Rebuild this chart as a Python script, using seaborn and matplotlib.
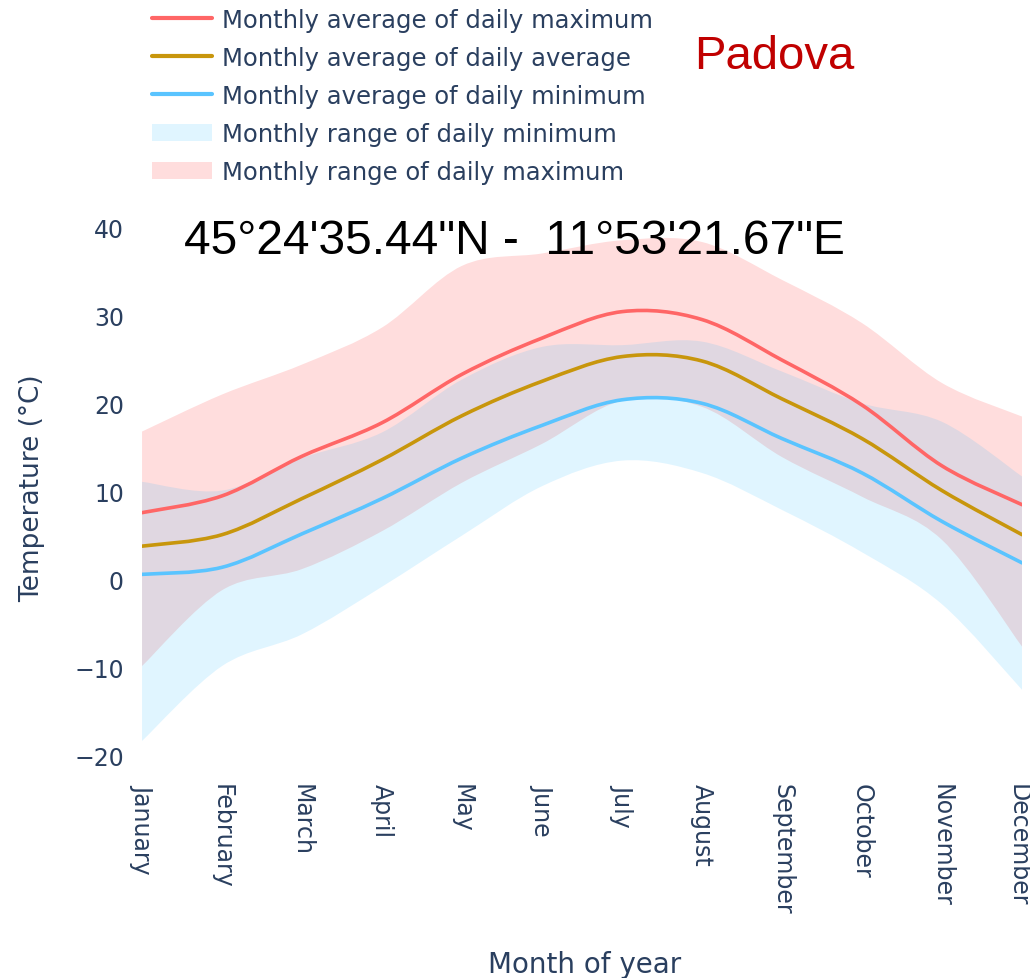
import numpy as np
import matplotlib
matplotlib.use("Agg")
import matplotlib.pyplot as plt
import matplotlib.transforms as mtransforms
from matplotlib.path import Path
from matplotlib.patches import PathPatch, Patch
from matplotlib.lines import Line2D
import seaborn as sns

months = ["January", "February", "March", "April", "May", "June", "July",
          "August", "September", "October", "November", "December"]

avg_max = [7.6, 9.5, 14.0, 17.8, 23.3, 27.4, 30.4, 29.5, 24.9, 19.8, 12.9, 8.5]
avg_avg = [3.8, 5.1, 9.2, 13.6, 18.6, 22.5, 25.3, 24.8, 20.5, 16.0, 10.1, 5.1]
avg_min = [0.6, 1.4, 5.2, 9.2, 13.8, 17.5, 20.4, 20.0, 16.0, 12.1, 6.6, 1.9]

max_range_hi = [16.8, 21.0, 24.4, 28.6, 35.6, 37.0, 38.5, 38.3, 34.0, 29.1, 22.3, 18.5]
max_range_lo = [-9.8, -1.2, 1.2, 5.5, 11.0, 15.4, 20.3, 19.6, 13.9, 9.4, 4.5, -7.6]
min_range_hi = [11.1, 10.1, 13.8, 16.7, 22.7, 26.4, 26.6, 27.0, 23.6, 20.0, 17.9, 11.7]
min_range_lo = [-18.3, -9.8, -6.2, -0.8, 5.0, 10.6, 13.5, 12.1, 7.9, 3.1, -2.8, -12.5]

title_coords = "45°24'35.44\"N -  11°53'21.67\"E"
city = "Padova"

sns.set_theme(style="white")
plt.rcParams["font.family"] = ["DejaVu Sans"]

TXT = "#2a3f5f"
C_MAX = "#ff6666"
C_AVG = "#c8960c"
C_MIN = "#5ac4ff"


def spline_verts(xs, ys):
    """Catmull-Rom spline expressed as cubic Bezier segments (drawn by matplotlib Path)."""
    p = np.column_stack([xs, ys]).astype(float)
    n = len(p)
    verts = [tuple(p[0])]
    codes = [Path.MOVETO]
    for i in range(n - 1):
        p0 = p[i - 1] if i > 0 else p[i]
        p1 = p[i]
        p2 = p[i + 1]
        p3 = p[i + 2] if i + 2 < n else p[i + 1]
        c1 = p1 + (p2 - p0) / 6.0
        c2 = p2 - (p3 - p1) / 6.0
        verts += [tuple(c1), tuple(c2), tuple(p2)]
        codes += [Path.CURVE4] * 3
    return verts, codes


def band(ax, xs, lo, hi, color, alpha, z):
    v1, c1 = spline_verts(xs, hi)
    v2, c2 = spline_verts(xs[::-1], lo[::-1])
    verts = v1 + [v2[0]] + v2[1:] + [v1[0]]
    codes = c1 + [Path.LINETO] + c2[1:] + [Path.CLOSEPOLY]
    ax.add_patch(PathPatch(Path(verts, codes), facecolor=color, alpha=alpha,
                           edgecolor="none", zorder=z))


def curve(ax, xs, ys, color, z):
    v, c = spline_verts(xs, ys)
    ax.add_patch(PathPatch(Path(v, c), facecolor="none", edgecolor=color,
                           linewidth=2.6, zorder=z, capstyle="round"))


fig = plt.figure(figsize=(10.3, 9.79), dpi=100)
ax = fig.add_axes([0.1379, 0.2178, 0.8544, 0.5673])

x = np.arange(len(months))
band(ax, x, np.array(max_range_lo), np.array(max_range_hi), (1.0, 0.0, 0.0), 0.133, 1)
band(ax, x, np.array(min_range_lo), np.array(min_range_hi), (0.0, 0.69, 1.0), 0.12, 2)
curve(ax, x, np.array(avg_max), C_MAX, 3)
curve(ax, x, np.array(avg_avg), C_AVG, 3)
curve(ax, x, np.array(avg_min), C_MIN, 3)

ax.set_xlim(0, len(months) - 1)
ax.set_ylim(-21, 42)
ax.set_yticks([-20, -10, 0, 10, 20, 30, 40])
ax.set_yticklabels(["\u221220", "\u221210", "0", "10", "20", "30", "40"])
ax.set_xticks(x)
ax.set_xticklabels(months, rotation=-90, ha="center", va="top")
ax.tick_params(axis="both", length=0, colors=TXT, labelsize=17)
ax.tick_params(axis="y", pad=13)
ax.tick_params(axis="x", pad=13)
ax.grid(False)
sns.despine(ax=ax, left=True, bottom=True)

# keep the last month label inside the canvas
last = ax.get_xticklabels()[-1]
last.set_transform(last.get_transform() +
                   mtransforms.ScaledTranslation(-4 / 100, 0, fig.dpi_scale_trans))

ax.set_ylabel("Temperature (°C)", fontsize=19, color=TXT)
ax.yaxis.set_label_coords(-0.11, 0.5)
fig.text(0.568, 1 - 965 / 979, "Month of year", fontsize=20, color=TXT,
         ha="center", va="center")

fig.text(0.499, 1 - 242 / 979, title_coords, fontsize=34.5, color="black",
         family=["Liberation Sans", "DejaVu Sans"], ha="center", va="center", zorder=10)
fig.text(0.752, 1 - 57 / 979, city, fontsize=34, color="#c00000",
         family=["Liberation Sans", "DejaVu Sans"], ha="center", va="center")

handles = [
    Line2D([], [], color=C_MAX, linewidth=3),
    Line2D([], [], color=C_AVG, linewidth=3),
    Line2D([], [], color=C_MIN, linewidth=3),
    Patch(facecolor=(0.0, 0.69, 1.0), alpha=0.12, edgecolor="none"),
    Patch(facecolor=(1.0, 0.0, 0.0), alpha=0.133, edgecolor="none"),
]
labels = ["Monthly average of daily maximum", "Monthly average of daily average",
          "Monthly average of daily minimum", "Monthly range of daily minimum",
          "Monthly range of daily maximum"]
leg = fig.legend(handles, labels, loc="upper left", bbox_to_anchor=(0.1476, 0.991),
                 frameon=False, fontsize=17.5, labelcolor=TXT, handlelength=2.48,
                 handletextpad=0.41, labelspacing=0.58, borderpad=0, borderaxespad=0)

fig.savefig("out.png", dpi=100)
